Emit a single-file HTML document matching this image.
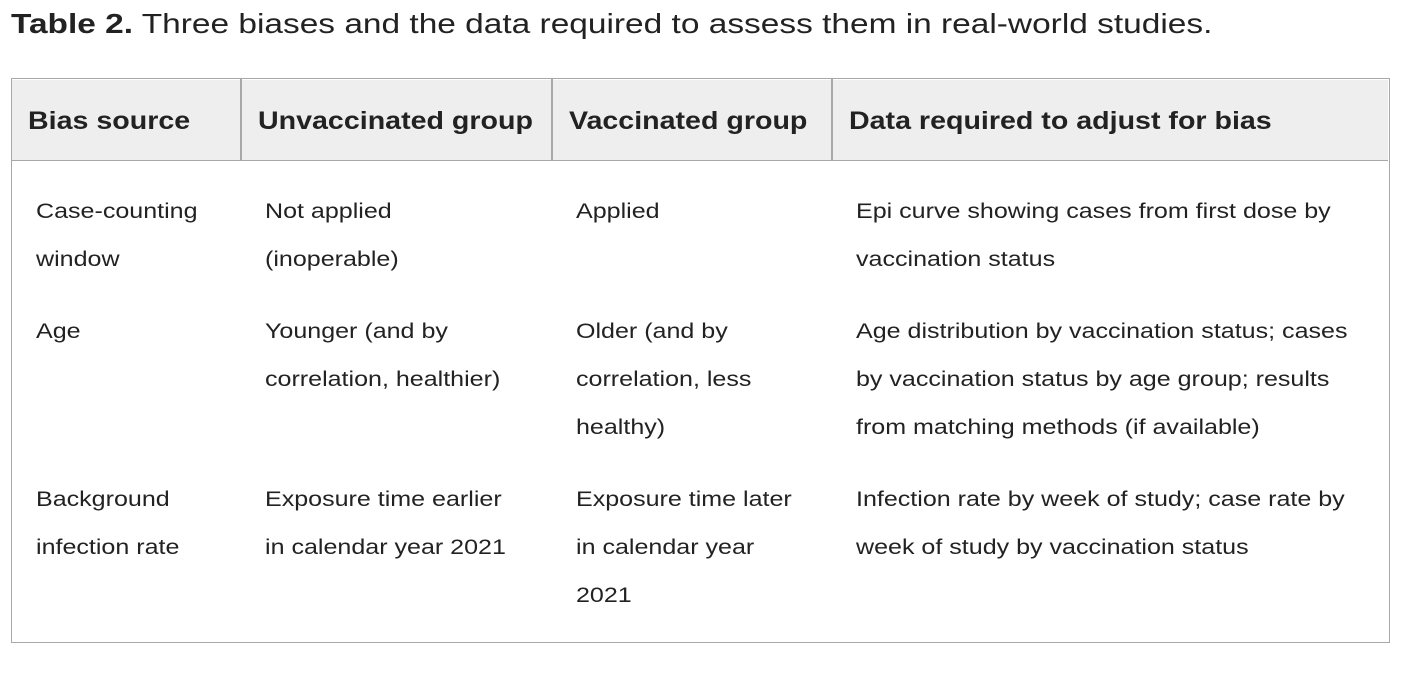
<!DOCTYPE html>
<html><head><meta charset="utf-8"><style>
body{margin:0;width:1406px;height:678px;background:#fff;position:relative;font-family:"Liberation Sans",sans-serif;color:#222;overflow:hidden}
.t{position:absolute;white-space:nowrap;transform-origin:0 50%}
.title{left:11px;top:4px;font-size:27.5px;line-height:40px;transform:scaleX(1.216)}
.box{position:absolute;left:11px;top:78px;width:1379px;height:565px;border:1.5px solid #a8a8a8;box-sizing:border-box}
.hdr{position:absolute;left:12px;top:79.5px;width:1376px;height:81px;background:#eeeeee;border-bottom:1.5px solid #a8a8a8;box-sizing:border-box}
.v{position:absolute;top:79px;height:81px;width:1.5px;background:#a8a8a8}
.h{font-weight:bold;font-size:25px;top:103px;line-height:36px;transform:scaleX(1.144)}
.b{font-size:21.5px;line-height:30px;transform:scaleX(1.165)}
</style></head><body>
<div class="t title"><b>Table 2.</b> Three biases and the data required to assess them in real-world studies.</div>
<div class="box"></div>
<div class="hdr"></div>
<div class="v" style="left:240px"></div>
<div class="v" style="left:551px"></div>
<div class="v" style="left:831px"></div>
<div class="t h" style="left:28px">Bias source</div>
<div class="t h" style="left:258px">Unvaccinated group</div>
<div class="t h" style="left:569px">Vaccinated group</div>
<div class="t h" style="left:849px">Data required to adjust for bias</div>

<div class="t b" style="left:36px;top:196px">Case-counting</div>
<div class="t b" style="left:36px;top:244px">window</div>
<div class="t b" style="left:265px;top:196px">Not applied</div>
<div class="t b" style="left:265px;top:244px">(inoperable)</div>
<div class="t b" style="left:576px;top:196px">Applied</div>
<div class="t b" style="left:856px;top:196px">Epi curve showing cases from first dose by</div>
<div class="t b" style="left:856px;top:244px">vaccination status</div>

<div class="t b" style="left:36px;top:316px">Age</div>
<div class="t b" style="left:265px;top:316px">Younger (and by</div>
<div class="t b" style="left:265px;top:364px">correlation, healthier)</div>
<div class="t b" style="left:576px;top:316px">Older (and by</div>
<div class="t b" style="left:576px;top:364px">correlation, less</div>
<div class="t b" style="left:576px;top:412px">healthy)</div>
<div class="t b" style="left:856px;top:316px">Age distribution by vaccination status; cases</div>
<div class="t b" style="left:856px;top:364px">by vaccination status by age group; results</div>
<div class="t b" style="left:856px;top:412px">from matching methods (if available)</div>

<div class="t b" style="left:36px;top:484px">Background</div>
<div class="t b" style="left:36px;top:532px">infection rate</div>
<div class="t b" style="left:265px;top:484px">Exposure time earlier</div>
<div class="t b" style="left:265px;top:532px">in calendar year 2021</div>
<div class="t b" style="left:576px;top:484px">Exposure time later</div>
<div class="t b" style="left:576px;top:532px">in calendar year</div>
<div class="t b" style="left:576px;top:580px">2021</div>
<div class="t b" style="left:856px;top:484px">Infection rate by week of study; case rate by</div>
<div class="t b" style="left:856px;top:532px">week of study by vaccination status</div>
</body></html>
